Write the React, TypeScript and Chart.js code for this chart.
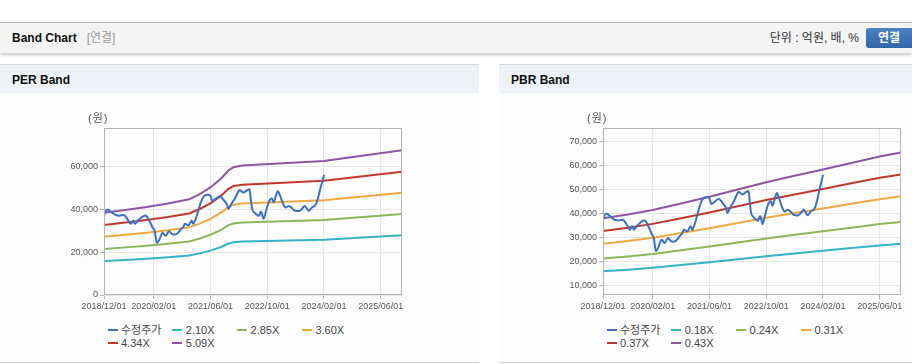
import React, { useEffect, useRef } from "react";
import { Chart, registerables } from "chart.js";

Chart.register(...registerables);

// x axis: months counted from 2018/12/01
const xMaxMonth = 84;
const xTickMonths = [0, 14, 30, 46, 62, 78];
const xTickLabels = ["2018/12/01", "2020/02/01", "2021/06/01", "2022/10/01", "2024/02/01", "2025/06/01"];

// 수정주가 (adjusted price)
const priceMonths = [
  0, 0.5, 1.1, 2.4, 3.3, 4.4, 5.6, 6.4, 7.5, 8.2, 8.7, 9.9, 11.3, 12.0, 13.0, 13.6, 14.3, 14.9, 15.5, 16.5,
  17.4, 18.3, 19.3, 20.5, 21.6, 22.4, 22.8, 23.8, 24.7, 25.2, 26.1, 27.1, 28.0, 28.9, 29.9, 30.6, 31.6, 32.7,
  33.7, 34.6, 35.1, 35.8, 36.9, 38.2, 39.3, 40.4, 41.0, 41.4, 41.9, 42.9, 43.6, 44.3, 45.0, 45.7, 46.6, 47.3,
  47.8, 48.5, 49.0, 49.6, 50.4, 51.1, 52.1, 53.0, 53.7, 55.1, 55.7, 56.5, 57.1, 57.7, 58.6, 59.6, 60.3, 61.0,
  61.6, 62.0,
];
const priceValues = [
  37000, 39300, 39800, 38300, 37300, 37000, 37300, 36000, 33200, 34600, 33200, 35300, 36900, 36700, 33900, 31800, 29700, 24400, 25500, 29000,
  27600, 29700, 28300, 28500, 30400, 31800, 33200, 32500, 34600, 33200, 36700, 42200, 45700, 46700, 46400, 43900, 45000, 46000,
  44300, 42500, 40100, 42200, 45000, 48900, 47800, 48900, 49200, 44300, 39400, 37700, 36900, 38800, 35500, 39400, 43900, 45000,
  43300, 46400, 48500, 46400, 42900, 40800, 41500, 40500, 39400, 39200, 40000, 41500, 40500, 39200, 40800, 41900, 45000, 49800,
  53300, 56000,
];

// PER band lines
const perBandMonths = [0, 6, 12, 18, 24, 27, 30, 33, 35, 36.5, 39, 62, 84];
const perBand210 = [15813, 16359, 16926, 17598, 18396, 19400, 20685, 22400, 23900, 24570, 24885, 25788, 27825];
const perBand285 = [21461, 22202, 22971, 23883, 24966, 26330, 28073, 30400, 32440, 33345, 33773, 34998, 37763];
const perBand360 = [27108, 28044, 29016, 30168, 31536, 33260, 35460, 38400, 40970, 42120, 42660, 44208, 47700];
const perBand434 = [32680, 33809, 34980, 36369, 38018, 40090, 42749, 46300, 49400, 50778, 51429, 53295, 57505];
const perBand509 = [38328, 39651, 41025, 42654, 44588, 47020, 50137, 54300, 57940, 59553, 60317, 62505, 67443];
const perLegend = ["수정주가", "2.10X", "2.85X", "3.60X", "4.34X", "5.09X"];
const perYTicks = [0, 20000, 40000, 60000];

// PBR band lines
const pbrBandMonths = [0, 7, 14, 22, 30, 38, 46, 54, 62, 70, 78, 84];
const pbrBand018 = [15894, 16524, 17316, 18450, 19620, 20880, 22140, 23274, 24390, 25524, 26640, 27324];
const pbrBand024 = [21192, 22032, 23088, 24600, 26160, 27840, 29520, 31032, 32520, 34032, 35520, 36432];
const pbrBand031 = [27373, 28458, 29822, 31775, 33790, 35960, 38130, 40083, 42005, 43958, 45880, 47058];
const pbrBand037 = [32671, 33966, 35594, 37925, 40330, 42920, 45510, 47841, 50135, 52466, 54760, 56166];
const pbrBand043 = [37969, 39474, 41366, 44075, 46870, 49880, 52890, 55599, 58265, 60974, 63640, 65274];
const pbrLegend = ["수정주가", "0.18X", "0.24X", "0.31X", "0.37X", "0.43X"];
const pbrYTicks = [10000, 20000, 30000, 40000, 50000, 60000, 70000];

const seriesColors = ["#3d70c3", "#36b2c7", "#8db65b", "#f0a93f", "#c1392d", "#8e55a3"];

const FONT = "'Liberation Sans', 'Noto Sans CJK KR', Arial, sans-serif";

type BandChartProps = {
  width: number;
  height: number;
  bandMonths: number[];
  bands: number[][];
  yMin: number;
  yMax: number;
  yTicks: number[];
};

function BandChart({ width, height, bandMonths, bands, yMin, yMax, yTicks }: BandChartProps) {
  const ref = useRef<HTMLCanvasElement | null>(null);

  useEffect(() => {
    if (!ref.current) return;
    const toPts = (xs: number[], ys: number[]) => xs.map((x, i) => ({ x, y: ys[i] }));
    const datasets: any[] = [
      {
        label: "수정주가",
        data: toPts(priceMonths, priceValues),
        borderColor: seriesColors[0],
        backgroundColor: seriesColors[0],
        borderWidth: 2,
        tension: 0.3,
        pointRadius: 0,
      },
      ...bands.map((b, i) => ({
        label: "band" + i,
        data: toPts(bandMonths, b),
        borderColor: seriesColors[i + 1],
        backgroundColor: seriesColors[i + 1],
        borderWidth: 2,
        tension: 0,
        pointRadius: 0,
      })),
    ];

    const frame = {
      id: "frame",
      afterDraw(chart: any) {
        const { ctx, chartArea: a } = chart;
        ctx.save();
        ctx.strokeStyle = "#b3b3b3";
        ctx.lineWidth = 1;
        const l = Math.round(a.left) + 0.5;
        const t = Math.round(a.top) + 0.5;
        const r = Math.round(a.right) - 0.5;
        const b = Math.round(a.bottom) - 0.5;
        ctx.strokeRect(l, t, r - l, b - t);
        ctx.restore();
      },
    };

    const tickFont = { family: FONT, size: 9 };
    const chart = new Chart(ref.current, {
      type: "line",
      data: { datasets },
      plugins: [frame],
      options: {
        responsive: false,
        animation: false,
        events: [],
        layout: { padding: { top: 35, right: width - 402, bottom: 0, left: 0 } },
        plugins: { legend: { display: false }, tooltip: { enabled: false } },
        scales: {
          x: {
            type: "linear",
            min: 0,
            max: xMaxMonth,
            afterFit: (s: any) => {
              s.height = height - 202;
            },
            afterBuildTicks: (s: any) => {
              s.ticks = xTickMonths.map((v) => ({ value: v }));
            },
            ticks: {
              autoSkip: false,
              maxRotation: 0,
              minRotation: 0,
              padding: 2,
              color: "#555",
              font: tickFont,
              callback: (_v: any, i: number) => xTickLabels[i],
            },
            grid: { color: "#e6e6e6", tickColor: "#b3b3b3", tickLength: 4, lineWidth: 1 },
            border: { display: false },
          },
          y: {
            type: "linear",
            min: yMin,
            max: yMax,
            afterFit: (s: any) => {
              s.width = 104;
            },
            afterBuildTicks: (s: any) => {
              s.ticks = yTicks.map((v) => ({ value: v }));
            },
            ticks: {
              padding: 2,
              color: "#555",
              font: tickFont,
              callback: (v: any) => Number(v).toLocaleString("en-US"),
            },
            grid: { color: "#e6e6e6", tickColor: "#b3b3b3", tickLength: 4, lineWidth: 1 },
            border: { display: false },
          },
        },
      } as any,
    });
    return () => chart.destroy();
  }, []);

  return <canvas ref={ref} width={width} height={height} style={{ display: "block", width, height }} />;
}

function Legend({ labels }: { labels: string[] }) {
  return (
    <div style={{ position: "absolute", left: 107.7, top: 323, width: 300, height: 28 }}>
      {labels.map((lab, i) => {
        const col = i % 4;
        const row = Math.floor(i / 4);
        return (
          <div
            key={lab}
            style={{
              position: "absolute",
              left: col * 64.8,
              top: row * 13.3,
              height: 14,
              width: 64,
              fontSize: 11,
              lineHeight: "14px",
              color: "#444",
              whiteSpace: "nowrap",
            }}
          >
            <span
              style={{
                position: "absolute",
                left: 0,
                top: 6,
                width: 10,
                height: 2,
                background: seriesColors[i],
              }}
            />
            <span style={{ position: "absolute", left: 13.3, top: 0 }}>{lab}</span>
          </div>
        );
      })}
    </div>
  );
}

function Panel({
  left,
  width,
  title,
  children,
  legend,
}: {
  left: number;
  width: number;
  title: string;
  children: React.ReactNode;
  legend: string[];
}) {
  return (
    <div style={{ position: "absolute", left, top: 64, width, height: 300 }}>
      <div style={{ position: "absolute", left: 0, top: 0, width, height: 1, background: "#d6d6d6" }} />
      <div style={{ position: "absolute", left: 0, top: 1, width, height: 28, background: "#eef2f7" }} />
      <div
        style={{
          position: "absolute",
          left: 12,
          top: 8,
          fontSize: 12,
          fontWeight: 700,
          lineHeight: "16px",
          color: "#111",
        }}
      >
        {title}
      </div>
      <div style={{ position: "absolute", left: 0, top: 29, width, height: 269, background: "#fdfdfd" }} />
      <div style={{ position: "absolute", left: 0, top: 298, width, height: 1, background: "#d2d2d2" }} />
      <div style={{ position: "absolute", left: 0, top: 29 }}>{children}</div>
      <div
        style={{
          position: "absolute",
          left: 88,
          top: 47,
          fontSize: 11,
          lineHeight: "14px",
          color: "#555",
          letterSpacing: 1,
        }}
      >
        (원)
      </div>
      <div style={{ position: "absolute", left: 0, top: -64 }}>
        <Legend labels={legend} />
      </div>
    </div>
  );
}

export default function App() {
  useEffect(() => {
    document.body.style.margin = "0";
  }, []);

  return (
    <div
      style={{
        position: "absolute",
        left: 0,
        top: 0,
        width: 912,
        height: 364,
        overflow: "hidden",
        background: "#ffffff",
        fontFamily: FONT,
      }}
    >
      {/* top header */}
      <div
        style={{
          position: "absolute",
          left: 0,
          top: 22,
          width: 912,
          height: 30,
          background: "#f4f4f4",
          borderTop: "1px solid #b4b4b4",
          boxShadow: "0 2px 3px rgba(0,0,0,0.22)",
        }}
      />
      <div
        style={{
          position: "absolute",
          left: 12,
          top: 30,
          fontSize: 12,
          lineHeight: "16px",
          fontWeight: 700,
          color: "#111",
          whiteSpace: "nowrap",
        }}
      >
        Band Chart
        <span style={{ color: "#999", fontWeight: 400, marginLeft: 10 }}>[연결]</span>
      </div>
      <div
        style={{
          position: "absolute",
          right: 53,
          top: 30,
          fontSize: 12,
          lineHeight: "16px",
          color: "#333",
          whiteSpace: "nowrap",
        }}
      >
        단위 : 억원, 배, %
      </div>
      <div
        style={{
          position: "absolute",
          left: 866,
          top: 28,
          width: 46,
          height: 20,
          borderRadius: "3px 0 0 3px",
          background: "linear-gradient(#4a80c4, #3466a8)",
          color: "#fff",
          fontSize: 12,
          fontWeight: 700,
          lineHeight: "20px",
          textAlign: "center",
        }}
      >
        연결
      </div>

      <Panel left={0} width={479} title="PER Band" legend={perLegend}>
        <BandChart
          width={479}
          height={230}
          bandMonths={perBandMonths}
          bands={[perBand210, perBand285, perBand360, perBand434, perBand509]}
          yMin={0}
          yMax={77850}
          yTicks={perYTicks}
        />
      </Panel>
      <Panel left={499} width={413} title="PBR Band" legend={pbrLegend}>
        <BandChart
          width={413}
          height={230}
          bandMonths={pbrBandMonths}
          bands={[pbrBand018, pbrBand024, pbrBand031, pbrBand037, pbrBand043]}
          yMin={6000}
          yMax={75500}
          yTicks={pbrYTicks}
        />
      </Panel>
    </div>
  );
}
